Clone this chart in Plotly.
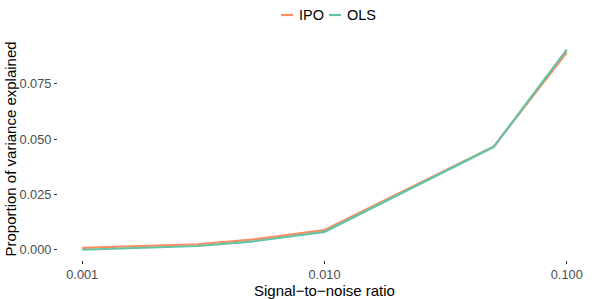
import plotly.graph_objects as go

snr = [0.001, 0.003, 0.005, 0.01, 0.05, 0.1]
ipo = [0.0010, 0.0026, 0.0047, 0.0090, 0.0468, 0.0893]
ols = [0.0001, 0.0018, 0.0038, 0.0082, 0.0466, 0.0905]
x_ticks = [0.001, 0.01, 0.1]
x_ticklabels = ["0.001", "0.010", "0.100"]
y_ticks = [0.0, 0.025, 0.05, 0.075]
y_ticklabels = ["0.000", "0.025", "0.050", "0.075"]
series = [("IPO", ipo, "#FC8D62"), ("OLS", ols, "#66C2A5")]

W, H = 598, 299
# plot panel in pixels
PX0, PX1, PY0, PY1 = 58, 591, 39, 260
L, R, T, B = PX0, W - PX1, PY0, H - PY1
PW, PH = PX1 - PX0, PY1 - PY0
FONT = "Liberation Sans, Arial, sans-serif"

def px2x(px):
    return (px - PX0) / PW

def py2y(py):
    return (PY1 - py) / PH

fig = go.Figure()
for name, vals, col in series:
    fig.add_trace(go.Scatter(x=snr, y=vals, mode="lines", name=name,
                             line=dict(color=col, width=2.2), showlegend=False))

shapes = []
annotations = []
leg_y = 15
for (name, vals, col), (x0, x1, tx) in zip(series, [(281, 293, 297), (329, 341, 345)]):
    shapes.append(dict(type="line", xref="paper", yref="paper",
                       x0=px2x(x0), x1=px2x(x1), y0=py2y(leg_y), y1=py2y(leg_y),
                       line=dict(color=col, width=2.2)))
    annotations.append(dict(text=name, xref="paper", yref="paper", x=px2x(tx), y=py2y(leg_y),
                            xanchor="left", yanchor="middle", showarrow=False,
                            font=dict(size=14.5, color="#000000", family=FONT)))

annotations.append(dict(text="Signal\u2212to\u2212noise ratio", xref="paper", yref="paper",
                        x=0.5, y=py2y(290), xanchor="center", yanchor="middle", showarrow=False,
                        font=dict(size=15, color="#000000", family=FONT)))
annotations.append(dict(text="Proportion of variance explained", xref="paper", yref="paper",
                        x=px2x(10), y=0.5, xanchor="center", yanchor="middle", showarrow=False,
                        textangle=-90, font=dict(size=15, color="#000000", family=FONT)))

fig.update_layout(
    width=W, height=H,
    margin=dict(l=L, r=R, t=T, b=B, autoexpand=False),
    paper_bgcolor="white", plot_bgcolor="white",
    font=dict(family=FONT),
    shapes=shapes, annotations=annotations,
    showlegend=False,
)
fig.update_xaxes(type="log", range=[-3.1, -0.9], tickvals=x_ticks, ticktext=x_ticklabels,
                 showgrid=False, zeroline=False, showline=False,
                 ticks="outside", ticklen=3, tickwidth=1, tickcolor="#333333",
                 tickfont=dict(size=12.8, color="#4D4D4D", family=FONT))
fig.update_yaxes(range=[-0.00452, 0.0953], tickvals=y_ticks, ticktext=y_ticklabels,
                 showgrid=False, zeroline=False, showline=False,
                 ticks="outside", ticklen=3, tickwidth=1, tickcolor="#333333",
                 tickfont=dict(size=12.8, color="#4D4D4D", family=FONT))

fig.write_html("out.html", config={"displayModeBar": False},
               post_script="document.body.style.margin='0px';document.body.style.overflow='hidden';")
